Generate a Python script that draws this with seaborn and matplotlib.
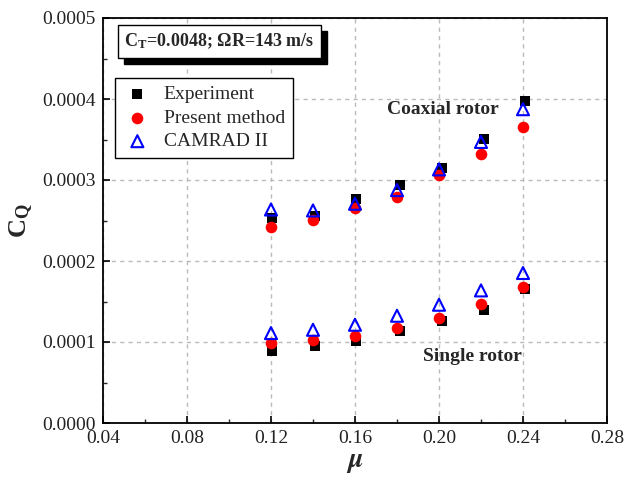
import numpy as np
import pandas as pd
import matplotlib
matplotlib.use("Agg")
import matplotlib.pyplot as plt
import matplotlib.patches as mpatches
import seaborn as sns
from matplotlib.ticker import MultipleLocator, FormatStrFormatter

# ---- data ----
mu_exp = [0.1205, 0.1410, 0.1605, 0.1815, 0.2015, 0.2215, 0.2410]
mu_calc = [0.12, 0.14, 0.16, 0.18, 0.20, 0.22, 0.24]

coax_exp = [0.0002533, 0.0002550, 0.0002770, 0.0002933, 0.0003152, 0.0003502, 0.0003977]
coax_present = [0.0002417, 0.0002510, 0.0002657, 0.0002793, 0.0003060, 0.0003320, 0.0003655]
coax_camrad = [0.0002636, 0.0002624, 0.0002707, 0.0002875, 0.0003131, 0.0003470, 0.0003874]

single_exp = [0.0000895, 0.0000953, 0.0001015, 0.0001130, 0.0001254, 0.0001390, 0.0001655]
single_present = [0.0000986, 0.0001027, 0.0001080, 0.0001171, 0.0001295, 0.0001473, 0.0001675]
single_camrad = [0.0001110, 0.0001151, 0.0001213, 0.0001324, 0.0001460, 0.0001637, 0.0001852]

x_ticks = [0.04, 0.08, 0.12, 0.16, 0.20, 0.24, 0.28]
y_ticks = [0.0, 0.0001, 0.0002, 0.0003, 0.0004, 0.0005]

sns.set_theme(style="ticks")
SERIF = ['Liberation Serif', 'DejaVu Serif']
plt.rcParams['font.family'] = SERIF
plt.rcParams['mathtext.fontset'] = 'stix'

df_exp = pd.DataFrame({"mu": mu_exp + mu_exp, "CQ": coax_exp + single_exp})
df_pre = pd.DataFrame({"mu": mu_calc + mu_calc, "CQ": coax_present + single_present})
df_cam = pd.DataFrame({"mu": mu_calc + mu_calc, "CQ": coax_camrad + single_camrad})

fig = plt.figure(figsize=(6.26, 4.8), dpi=100)
ax = fig.add_axes([103/626, 1-423/480, (607-103)/626, (423-18)/480])

sns.scatterplot(data=df_exp, x="mu", y="CQ", ax=ax, marker="s", s=55, color="black",
                edgecolor="black", linewidth=0, label="Experiment", zorder=3)
sns.scatterplot(data=df_pre, x="mu", y="CQ", ax=ax, marker="o", s=70, color="red",
                edgecolor="red", linewidth=0, label="Present method", zorder=4)
sns.scatterplot(data=df_cam, x="mu", y="CQ", ax=ax, marker="^", s=75, facecolor="none",
                edgecolor="blue", linewidth=1.5, label="CAMRAD II", zorder=5)

ax.set_xlim(0.04, 0.28)
ax.set_ylim(0, 0.0005)
ax.set_xticks(x_ticks)
ax.set_yticks(y_ticks)
ax.xaxis.set_minor_locator(MultipleLocator(0.02))
ax.yaxis.set_minor_locator(MultipleLocator(0.00005))
ax.xaxis.set_major_formatter(FormatStrFormatter('%.2f'))
ax.yaxis.set_major_formatter(FormatStrFormatter('%.4f'))
ax.tick_params(which='major', direction='in', length=5, width=1.2, labelsize=14,
               labelcolor='#222222', color='black', pad=5, labelfontfamily='Liberation Serif')
ax.tick_params(which='minor', direction='in', length=3, width=1.0)
ax.tick_params(axis='both', which='both', top=False, right=False)
for sp in ax.spines.values():
    sp.set_visible(True)
    sp.set_linewidth(1.3)
    sp.set_color('black')

ax.grid(True, which='major', linestyle=(0, (3, 3)), color='#bbbbbb', linewidth=1.0)
ax.set_axisbelow(True)

ax.set_xlabel(r"$\boldsymbol{\mu}$", fontsize=20, labelpad=2)
ax.set_ylabel(r"C$_\mathregular{Q}$", fontsize=19, fontweight='bold', labelpad=5)

leg = ax.legend(loc='upper left', bbox_to_anchor=(12/504, 1-60/405), fontsize=14,
                frameon=True, fancybox=False, edgecolor='black', framealpha=1,
                handletextpad=0.6, borderpad=0.4, labelspacing=0.3, handlelength=1.5,
                borderaxespad=0)
leg.get_frame().set_linewidth(1.0)

label_txt = r"C$_\mathregular{T}$=0.0048; ΩR=143 m/s"
tx, ty = 0.0500, 0.000471
main = ax.text(tx, ty, label_txt, fontsize=13, fontweight='bold', va='center', ha='left',
               zorder=7,
               bbox=dict(boxstyle='square,pad=0.35', facecolor='white', edgecolor='black',
                         linewidth=1.0))

ax.text(0.2019, 0.0003874, "Coaxial rotor", fontsize=14, fontweight='bold', ha='center',
        va='center', zorder=8)
ax.text(0.2157, 0.0000817, "Single rotor", fontsize=14, fontweight='bold', ha='center',
        va='center', zorder=8)

# shadow rectangle behind the label box (offset a few pixels right/down)
fig.canvas.draw()
bb = main.get_bbox_patch().get_window_extent()
shadow = mpatches.Rectangle((bb.x0 + 6, bb.y0 - 6), bb.width, bb.height, transform=None,
                            facecolor='black', edgecolor='black', zorder=6)
ax.add_artist(shadow)

fig.savefig("out.png", dpi=100)
